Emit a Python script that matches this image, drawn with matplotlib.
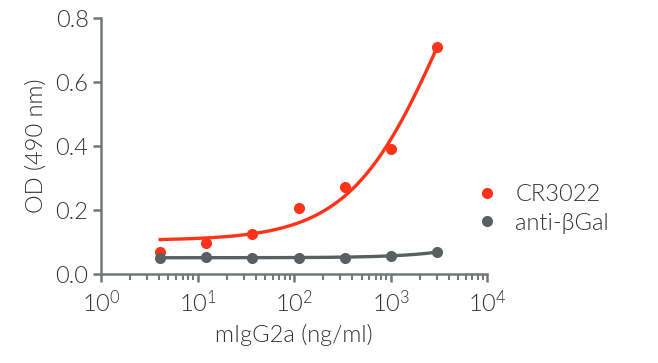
import numpy as np
import matplotlib.pyplot as plt
from matplotlib.lines import Line2D
from matplotlib.ticker import LogLocator, NullFormatter

plt.rcParams['font.family'] = ['Lato', 'DejaVu Sans']
plt.rcParams['font.weight'] = 300
plt.rcParams['axes.labelweight'] = 300
plt.rcParams['mathtext.fontset'] = 'custom'
plt.rcParams['mathtext.rm'] = 'Lato:weight=300'
plt.rcParams['mathtext.it'] = 'Lato:weight=300'

# concentrations (ng/ml), 3-fold dilutions
conc = [4.1, 12.3, 37, 111, 333, 1000, 3000]
cr3022 = [0.069, 0.097, 0.125, 0.206, 0.272, 0.390, 0.709]
anti_bgal = [0.050, 0.052, 0.051, 0.050, 0.051, 0.056, 0.068]

# 4PL fit parameters (bottom, top, EC50, hill)
cr3022_fit = [0.105, 1.40, 3520, 0.9]
bgal_fit = [0.051, 1.0, 1.6e5, 1.0]

red = '#ff3319'
grey = '#596061'
axis_col = '#6e7876'
text_col = '#333333'


def fourpl(x, p):
    b, t, e, h = p
    return b + (t - b) / (1 + (e / x) ** h)


xs = np.logspace(np.log10(conc[0]), np.log10(conc[-1]), 200)

fig = plt.figure(figsize=(6.58, 3.63), dpi=100)
ax = fig.add_axes([0.1535, 0.245, 0.587, 0.705])

ax.plot(xs, fourpl(xs, cr3022_fit), color=red, lw=2.4, zorder=2)
ax.plot(xs, fourpl(xs, bgal_fit), color=grey, lw=2.4, zorder=2)
ax.plot(conc, cr3022, 'o', color=red, ms=8, mec='none', zorder=3)
ax.plot(conc, anti_bgal, 'o', color=grey, ms=8, mec='none', zorder=3)

ax.set_xscale('log')
ax.set_xlim(1, 1e4)
ax.set_ylim(0, 0.8)
ax.set_yticks([0.0, 0.2, 0.4, 0.6, 0.8])
ax.set_yticklabels(['0.0', '0.2', '0.4', '0.6', '0.8'])
ax.xaxis.set_minor_locator(LogLocator(base=10, subs=np.arange(2, 10)))
ax.xaxis.set_minor_formatter(NullFormatter())

for s in ['top', 'right']:
    ax.spines[s].set_visible(False)
for s in ['left', 'bottom']:
    ax.spines[s].set_color(axis_col)
    ax.spines[s].set_linewidth(1.8)

ax.tick_params(axis='both', which='major', colors=axis_col, width=1.8, length=6,
               labelcolor=text_col, labelsize=17)
ax.tick_params(axis='x', which='minor', colors=axis_col, width=1.4, length=4)
ax.tick_params(axis='x', pad=5)
ax.tick_params(axis='y', pad=3)

ax.set_xlabel('mIgG2a (ng/ml)', fontsize=17, color=text_col, labelpad=6)
ax.set_ylabel('OD (490 nm)', fontsize=17, color=text_col, labelpad=6)

handles = [Line2D([], [], marker='o', ls='none', color=red, ms=8, mec='none'),
           Line2D([], [], marker='o', ls='none', color=grey, ms=8, mec='none')]
leg = fig.legend(handles, ['CR3022', 'anti-βGal'], loc='center left',
                 bbox_to_anchor=(0.672, 0.425), frameon=False, fontsize=17,
                 handletextpad=0.2, labelspacing=0.33)
for t in leg.get_texts():
    t.set_color(text_col)

fig.savefig('out.png', dpi=100)
